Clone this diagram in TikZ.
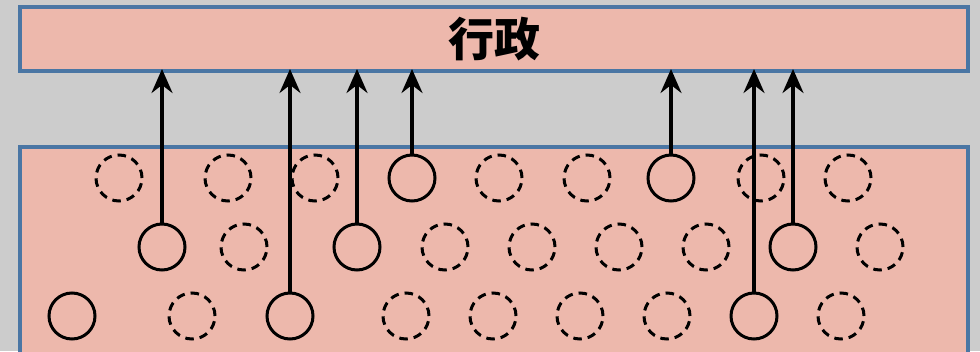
\documentclass[tikz,border=0pt]{standalone}
\usepackage{fontspec}
\newfontfamily\cjk{Noto Sans CJK SC}
\usetikzlibrary{arrows.meta}
\definecolor{bgc}{HTML}{CCCCCC}
\definecolor{salmon}{HTML}{EDB8AC}
\definecolor{edgeblue}{HTML}{4A76A4}
\tikzset{
  panel/.style={draw=edgeblue, fill=salmon, line width=4pt, inner sep=0pt, outer sep=0pt},
  agent/.style={circle, draw=black, line width=3pt, minimum size=46pt, inner sep=0pt},
  hidden/.style={agent, dash pattern=on 8.5pt off 6pt},
  voice/.style={-{Stealth[length=24pt, width=21pt, inset=8pt]}, line width=3.4pt, draw=black},
}
\begin{document}
\begin{tikzpicture}[x=1pt, y=-1pt]
\fill[bgc] (0,0) rectangle (980,351);
\useasboundingbox (0,0) rectangle (980,351);
\clip (0,0) rectangle (980,351);
\node[panel, minimum width=948pt, minimum height=64pt] (top) at (494,39) {\cjk\bfseries\fontsize{46pt}{50pt}\selectfont 行政};
\node[panel, minimum width=948pt, minimum height=253pt] (bottom) at (494,273.5) {};
% row 1
\node[hidden] (a1) at (119,178) {};
\node[hidden] (a2) at (228,178) {};
\node[hidden] (a3) at (315,178) {};
\node[agent]  (a4) at (412,178) {};
\node[hidden] (a5) at (499,178) {};
\node[hidden] (a6) at (587,178) {};
\node[agent]  (a7) at (671,178) {};
\node[hidden] (a8) at (761,178) {};
\node[hidden] (a9) at (848,178) {};
% row 2
\node[agent]  (b1) at (162,247) {};
\node[hidden] (b2) at (244,247) {};
\node[agent]  (b3) at (357,247) {};
\node[hidden] (b4) at (445,247) {};
\node[hidden] (b5) at (532,247) {};
\node[hidden] (b6) at (619,247) {};
\node[hidden] (b7) at (706,247) {};
\node[agent]  (b8) at (793,247) {};
\node[hidden] (b9) at (880,247) {};
% row 3
\node[agent]  (c1) at (72,316) {};
\node[hidden] (c2) at (192,316) {};
\node[agent]  (c3) at (290,316) {};
\node[hidden] (c4) at (406,316) {};
\node[hidden] (c5) at (493,316) {};
\node[hidden] (c6) at (580,316) {};
\node[hidden] (c7) at (667,316) {};
\node[agent]  (c8) at (754,316) {};
\node[hidden] (c9) at (841,316) {};
% arrows
\foreach \n in {b1,c3,b3,a4,a7,c8,b8}
  \draw[voice] (\n.north) -- ([yshift=2pt]\n.north |- top.south);
\end{tikzpicture}
\end{document}
